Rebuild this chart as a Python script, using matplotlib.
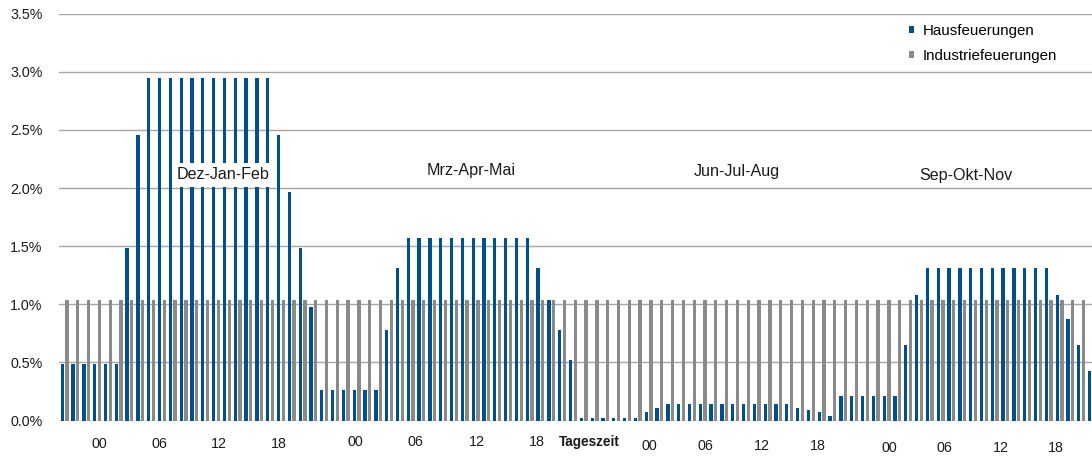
import numpy as np
import matplotlib
matplotlib.use("Agg")
import matplotlib.pyplot as plt

plt.rcParams["font.family"] = ["Liberation Sans", "DejaVu Sans"]

BLUE = "#004F8F"
GREY = "#8A8A8A"
GRID = "#A6A6A6"
INK = "#1A1A1A"

# hourly share (%) per season, 24 values each
haus_djf = [0.49, 0.49, 0.49, 0.49, 0.49, 0.49, 1.48, 2.46, 2.95, 2.95, 2.95, 2.95,
            2.95, 2.95, 2.95, 2.95, 2.95, 2.95, 2.95, 2.95, 2.46, 1.97, 1.48, 0.98]
haus_mam = [0.26, 0.26, 0.26, 0.26, 0.26, 0.26, 0.78, 1.31, 1.57, 1.57, 1.57, 1.57,
            1.57, 1.57, 1.57, 1.57, 1.57, 1.57, 1.57, 1.57, 1.31, 1.04, 0.78, 0.52]
haus_jja = [0.02, 0.02, 0.02, 0.02, 0.02, 0.02, 0.07, 0.11, 0.14, 0.14, 0.14, 0.14,
            0.14, 0.14, 0.14, 0.14, 0.14, 0.14, 0.14, 0.14, 0.11, 0.09, 0.07, 0.04]
haus_son = [0.21, 0.21, 0.21, 0.21, 0.21, 0.21, 0.65, 1.08, 1.31, 1.31, 1.31, 1.31,
            1.31, 1.31, 1.31, 1.31, 1.31, 1.31, 1.31, 1.31, 1.08, 0.87, 0.65, 0.43]
ind_djf = [1.04, 1.04, 1.04, 1.04, 1.04, 1.04, 1.04, 1.04, 1.04, 1.04, 1.04, 1.04,
           1.04, 1.04, 1.04, 1.04, 1.04, 1.04, 1.04, 1.04, 1.04, 1.04, 1.04, 1.04]
ind_mam = [1.04, 1.04, 1.04, 1.04, 1.04, 1.04, 1.04, 1.04, 1.04, 1.04, 1.04, 1.04,
           1.04, 1.04, 1.04, 1.04, 1.04, 1.04, 1.04, 1.04, 1.04, 1.04, 1.04, 1.04]
ind_jja = [1.04, 1.04, 1.04, 1.04, 1.04, 1.04, 1.04, 1.04, 1.04, 1.04, 1.04, 1.04,
           1.04, 1.04, 1.04, 1.04, 1.04, 1.04, 1.04, 1.04, 1.04, 1.04, 1.04, 1.04]
ind_son = [1.04, 1.04, 1.04, 1.04, 1.04, 1.04, 1.04, 1.04, 1.04, 1.04, 1.04, 1.04,
           1.04, 1.04, 1.04, 1.04, 1.04, 1.04, 1.04, 1.04, 1.04, 1.04, 1.04, 1.04]

seasons = ["Dez-Jan-Feb", "Mrz-Apr-Mai", "Jun-Jul-Aug", "Sep-Okt-Nov"]
series_labels = ["Hausfeuerungen", "Industriefeuerungen"]
hour_labels = ["00", "06", "12", "18"]
axis_title = "Tageszeit"
y_ticks = [0.0, 0.5, 1.0, 1.5, 2.0, 2.5, 3.0, 3.5]

# layout (hand-placed labels of the original, in bar-group units)
season_pos = [(14.66, 2.115), (37.58, 2.15), (62.11, 2.145), (83.38, 2.105)]
season_boxed = [True, False, False, False]   # only the winter label sits over bars
hour_x = [[3.20, 8.75, 14.29, 19.84], [26.93, 32.47, 38.08, 43.63],
          [54.10, 59.27, 64.48, 69.65], [76.25, 81.34, 86.53, 91.69]]
hour_y = [-0.058, -0.054, -0.062, -0.067]
axis_title_pos = (48.53, -0.052)

haus = np.array(haus_djf + haus_mam + haus_jja + haus_son)
ind = np.array(ind_djf + ind_mam + ind_jja + ind_son)
x = np.arange(len(haus))

W, H = 1092, 459
fig = plt.figure(figsize=(W / 100, H / 100), dpi=100)
ax = fig.add_axes([59.3 / W, 1 - 420.5 / H, 1 - 59.3 / W, (420.5 - 13.7) / H])

bw = 0.305
off = 0.217
b1 = ax.bar(x - off, haus, width=bw, color=BLUE, zorder=3, label=series_labels[0])
b2 = ax.bar(x + off, ind, width=bw, color=GREY, zorder=3, label=series_labels[1])

ax.set_xlim(-0.49, 95.0)
ax.set_ylim(0, 3.5)
ax.set_yticks(y_ticks)
ax.set_yticklabels([f"{v:.1f}%" for v in y_ticks], fontsize=10.3, color=INK)
ax.set_xticks([])
ax.tick_params(axis="y", length=0, pad=12)
ax.yaxis.grid(True, color=GRID, lw=1.0)
ax.set_axisbelow(True)
for s in ax.spines.values():
    s.set_visible(False)

for (sx, sy), name, boxed in zip(season_pos, seasons, season_boxed):
    box = dict(facecolor="white", edgecolor="none", pad=3.2) if boxed else None
    ax.text(sx, sy, name, ha="center", va="center", fontsize=11.6, color=INK,
            zorder=5, bbox=box)

tr = ax.get_xaxis_transform()
for xs, yy in zip(hour_x, hour_y):
    for hx, lab in zip(xs, hour_labels):
        ax.text(hx, yy, lab, transform=tr, ha="center", va="center",
                fontsize=10.3, color=INK, clip_on=False)
ax.text(axis_title_pos[0], axis_title_pos[1], axis_title, transform=tr, ha="center",
        va="center", fontsize=9.8, weight="bold", color=INK, clip_on=False)

ax.legend(handles=[b1, b2], loc="upper left", bbox_to_anchor=(909 / W, 1 - 24 / H),
          bbox_transform=fig.transFigure, frameon=False, fontsize=10.9,
          handlelength=0.35, handleheight=0.35, handletextpad=0.55,
          labelspacing=0.75, borderpad=0, borderaxespad=0)

fig.savefig("out.png", dpi=100)
